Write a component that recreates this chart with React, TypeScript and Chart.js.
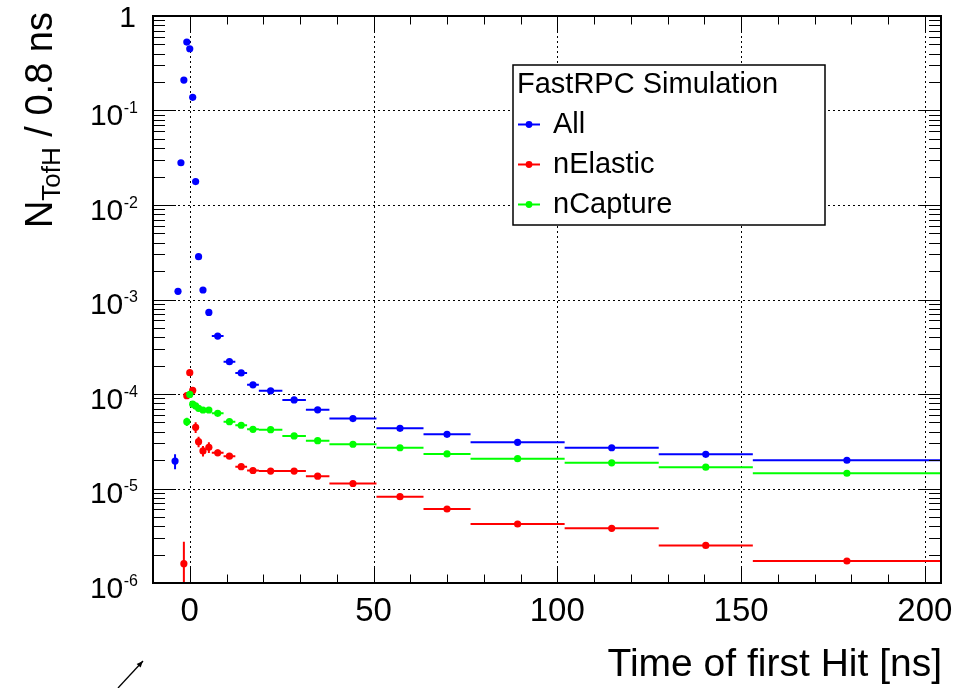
import React, { useEffect, useRef } from 'react';
import { Chart, registerables } from 'chart.js';

Chart.register(...registerables);

// ---- data ----
const binEdges = [-4.4, -3.6, -2.8, -2.0, -1.2, -0.4, 0.4, 1.2, 2.0, 2.8, 4.4, 6.0, 9.2, 12.4, 15.6, 18.8, 25.2, 31.6, 38.0, 50.8, 63.6, 76.4, 102.0, 127.6, 153.2, 204.4];

const allValues = [1.95e-5, 1.22e-3, 0.028, 0.21, 0.53, 0.45, 0.138, 0.0177, 0.00284, 0.00126, 7.3e-4, 4.1e-4, 2.2e-4, 1.67e-4, 1.25e-4, 1.08e-4, 8.65e-5, 6.8e-5, 5.5e-5, 4.33e-5, 3.74e-5, 3.08e-5, 2.7e-5, 2.3e-5, 1.99e-5];
const allErrors = [3.5e-6, 1.5e-5, 3e-4, 1e-3, 1.5e-3, 1.4e-3, 8e-4, 2.8e-4, 1.1e-4, 5e-5, 3.5e-5, 1.8e-5, 1.1e-5, 9e-6, 7e-6, 4e-6, 3.5e-6, 3e-6, 1.7e-6, 1.5e-6, 1.4e-6, 8e-7, 7e-7, 6e-7, 4e-7];

const elasticValues = [null, null, null, 1.6e-6, 9.6e-5, 1.68e-4, 1.09e-4, 4.44e-5, 3.13e-5, 2.5e-5, 2.73e-5, 2.39e-5, 2.2e-5, 1.7e-5, 1.55e-5, 1.53e-5, 1.53e-5, 1.35e-5, 1.13e-5, 8.2e-6, 6.07e-6, 4.21e-6, 3.79e-6, 2.5e-6, 1.71e-6];
const elasticErrors = [0, 0, 0, 1.14e-6, 4e-6, 5e-6, 4.5e-6, 5.7e-6, 4.0e-6, 3.2e-6, 3.5e-6, 2.0e-6, 1.5e-6, 1.2e-6, 1.1e-6, 8e-7, 8e-7, 6e-7, 4e-7, 3e-7, 2.5e-7, 1.5e-7, 1.3e-7, 1e-7, 7e-8];

const captureValues = [null, null, null, null, 5.1e-5, 9.9e-5, 7.8e-5, 7.47e-5, 7.06e-5, 6.77e-5, 6.77e-5, 6.25e-5, 5.1e-5, 4.67e-5, 4.23e-5, 4.19e-5, 3.6e-5, 3.21e-5, 2.94e-5, 2.7e-5, 2.32e-5, 2.07e-5, 1.87e-5, 1.68e-5, 1.45e-5];
const captureErrors = [0, 0, 0, 0, 5.2e-6, 3e-6, 2.5e-6, 2.5e-6, 2.4e-6, 1.8e-6, 1.8e-6, 1.2e-6, 9e-7, 8e-7, 7e-7, 5e-7, 4.5e-7, 4e-7, 3e-7, 2.5e-7, 2.2e-7, 1.4e-7, 1.3e-7, 1.2e-7, 8e-8];

const seriesLabels = ['All', 'nElastic', 'nCapture'];
const seriesColors = ['#0000ff', '#ff0000', '#00ff00'];
const legendHeader = 'FastRPC Simulation';

const xTickLabels = [0, 50, 100, 150, 200];
const xMinorStep = 10;
const yTickExponents = [0, -1, -2, -3, -4, -5, -6];
const xTitle = 'Time of first Hit [ns]';
const yTitleMain = 'N';
const yTitleSub = 'TofH';
const yTitleRest = ' / 0.8 ns';

const FONT = '"Liberation Sans", Arial, Helvetica, sans-serif';
const f = (s: number) => `${s}px ${FONT}`;

function binCenter(i: number) {
  return (binEdges[i] + binEdges[i + 1]) / 2;
}

function markerData(values: (number | null)[]) {
  const out: any[] = [];
  values.forEach((v, i) => { if (v != null) out.push({ x: binCenter(i), y: v }); });
  return out;
}
function hBarData(values: (number | null)[]) {
  const out: any[] = [];
  values.forEach((v, i) => {
    if (v != null) out.push({ x: binEdges[i], y: v }, { x: binEdges[i + 1], y: v }, { x: binCenter(i), y: null });
  });
  return out;
}
function vBarData(values: (number | null)[], errs: number[]) {
  const out: any[] = [];
  values.forEach((v, i) => {
    if (v != null && errs[i] > 0) out.push({ x: binCenter(i), y: v - errs[i] }, { x: binCenter(i), y: v + errs[i] }, { x: binCenter(i), y: null });
  });
  return out;
}

function seriesDatasets(label: string, color: string, values: (number | null)[], errs: number[]) {
  const bar = { showLine: true, borderColor: color, borderWidth: 2, pointRadius: 0, spanGaps: false, fill: false, borderCapStyle: 'butt' };
  return [
    { label, data: markerData(values), showLine: false, pointRadius: 3.6, pointBackgroundColor: color, pointBorderWidth: 0, borderColor: color },
    { label: label + ' xerr', data: hBarData(values), ...bar },
    { label: label + ' yerr', data: vBarData(values, errs), ...bar },
  ];
}

const rootStyle = {
  id: 'rootStyle',
  beforeDatasetsDraw(chart: any) {
    const { ctx, chartArea: a, scales } = chart;
    const x = scales.x, y = scales.y;
    ctx.save();
    ctx.strokeStyle = '#000';
    ctx.lineWidth = 1;
    ctx.setLineDash([2, 3]);
    for (const t of xTickLabels) {
      const px = Math.round(x.getPixelForValue(t)) + 0.5;
      ctx.beginPath(); ctx.moveTo(px, a.top); ctx.lineTo(px, a.bottom); ctx.stroke();
    }
    for (const e of yTickExponents) {
      const py = Math.round(y.getPixelForValue(Math.pow(10, e))) + 0.5;
      ctx.beginPath(); ctx.moveTo(a.left, py); ctx.lineTo(a.right, py); ctx.stroke();
    }
    ctx.restore();
  },
  afterDatasetsDraw(chart: any) {
    const { ctx, chartArea: a, scales } = chart;
    const x = scales.x, y = scales.y;
    ctx.save();
    ctx.setLineDash([]);
    ctx.strokeStyle = '#000';
    ctx.fillStyle = '#000';
    // ticks
    ctx.lineWidth = 1;
    const xMajLen = 17, xMinLen = 8.5, yMajLen = 23, yMinLen = 12;
    for (let t = x.min; t <= x.max + 1e-9; t += xMinorStep) {
      const v = Math.round(t * 10) / 10;
      const isMaj = xTickLabels.includes(v);
      const len = isMaj ? xMajLen : xMinLen;
      const px = Math.round(x.getPixelForValue(v)) + 0.5;
      ctx.beginPath();
      ctx.moveTo(px, a.bottom); ctx.lineTo(px, a.bottom - len);
      ctx.moveTo(px, a.top); ctx.lineTo(px, a.top + len);
      ctx.stroke();
    }
    for (let e = -6; e <= 0; e++) {
      for (let k = 1; k <= 9; k++) {
        const val = k * Math.pow(10, e);
        if (val > 1.0000001) break;
        const len = k === 1 ? yMajLen : yMinLen;
        const py = Math.round(y.getPixelForValue(val)) + 0.5;
        ctx.beginPath();
        ctx.moveTo(a.left, py); ctx.lineTo(a.left + len, py);
        ctx.moveTo(a.right, py); ctx.lineTo(a.right - len, py);
        ctx.stroke();
      }
    }
    // frame
    ctx.lineWidth = 2;
    ctx.strokeRect(a.left, a.top, a.right - a.left, a.bottom - a.top);

    // x tick labels
    ctx.font = f(33);
    ctx.textAlign = 'center';
    ctx.textBaseline = 'alphabetic';
    for (const t of xTickLabels) {
      ctx.fillText(String(t), x.getPixelForValue(t), 621);
    }
    // y tick labels
    const labelRight = 138;
    for (const e of yTickExponents) {
      const py = y.getPixelForValue(Math.pow(10, e));
      if (e === 0) {
        ctx.font = f(30);
        ctx.textAlign = 'right';
        ctx.fillText('1', labelRight - 2, py + 11);
        continue;
      }
      const sup = String(e);
      ctx.font = f(16);
      const sw = ctx.measureText(sup).width;
      ctx.textAlign = 'left';
      ctx.fillText(sup, labelRight - sw, py + 2.5);
      ctx.font = f(30);
      ctx.textAlign = 'right';
      ctx.fillText('10', labelRight - sw - 0.5, py + 14.5);
    }
    // x title
    ctx.font = f(39);
    ctx.textAlign = 'right';
    ctx.fillText(xTitle, a.right + 1, 676);
    // y title (rotated)
    ctx.save();
    ctx.font = f(38);
    const w1 = ctx.measureText(yTitleMain).width;
    const w3 = ctx.measureText(yTitleRest).width;
    ctx.font = f(26);
    const w2 = ctx.measureText(yTitleSub).width;
    const total = w1 + w2 + w3;
    ctx.translate(52, 12 + total);
    ctx.rotate(-Math.PI / 2);
    ctx.textAlign = 'left';
    ctx.font = f(38);
    ctx.fillText(yTitleMain, 0, 0);
    ctx.font = f(26);
    ctx.fillText(yTitleSub, w1, 8);
    ctx.font = f(38);
    ctx.fillText(yTitleRest, w1 + w2, 0);
    ctx.restore();

    // legend
    const lx = 513, ly = 65, lw = 312, lh = 160;
    ctx.fillStyle = '#fff';
    ctx.fillRect(lx, ly, lw, lh);
    ctx.lineWidth = 1.5;
    ctx.strokeStyle = '#000';
    ctx.strokeRect(lx, ly, lw, lh);
    ctx.fillStyle = '#000';
    ctx.textAlign = 'left';
    ctx.font = f(29);
    ctx.fillText(legendHeader, lx + 4, ly + 28);
    seriesLabels.forEach((lab, i) => {
      const base = ly + 68 + i * 40;
      const my = base - 8.5;
      ctx.strokeStyle = seriesColors[i];
      ctx.lineWidth = 2;
      ctx.beginPath(); ctx.moveTo(lx + 5, my); ctx.lineTo(lx + 27, my); ctx.stroke();
      ctx.fillStyle = seriesColors[i];
      ctx.beginPath(); ctx.arc(lx + 16, my, 3.4, 0, Math.PI * 2); ctx.fill();
      ctx.fillStyle = '#000';
      ctx.font = f(29);
      ctx.fillText(lab, lx + 40, base);
    });

    // stray arrow at bottom left
    ctx.strokeStyle = '#000';
    ctx.fillStyle = '#000';
    ctx.lineWidth = 1.3;
    const ax0 = 118, ay0 = 688, ax1 = 143, ay1 = 661;
    ctx.beginPath(); ctx.moveTo(ax0, ay0); ctx.lineTo(ax1, ay1); ctx.stroke();
    const ang = Math.atan2(ay1 - ay0, ax1 - ax0);
    ctx.beginPath();
    ctx.moveTo(ax1, ay1);
    ctx.lineTo(ax1 - 7 * Math.cos(ang - 0.4), ay1 - 7 * Math.sin(ang - 0.4));
    ctx.lineTo(ax1 - 7 * Math.cos(ang + 0.4), ay1 - 7 * Math.sin(ang + 0.4));
    ctx.closePath(); ctx.fill();
    ctx.restore();
  },
};

export default function App() {
  const ref = useRef<HTMLCanvasElement | null>(null);
  useEffect(() => {
    if (!ref.current) return;
    const datasets = [
      ...seriesDatasets(seriesLabels[2], seriesColors[2], captureValues, captureErrors),
      ...seriesDatasets(seriesLabels[1], seriesColors[1], elasticValues, elasticErrors),
      ...seriesDatasets(seriesLabels[0], seriesColors[0], allValues, allErrors),
    ];
    const chart = new Chart(ref.current, {
      type: 'scatter',
      data: { datasets: datasets as any },
      options: {
        animation: false,
        responsive: false,
        devicePixelRatio: 1,
        events: [],
        layout: { padding: { top: 16, right: 29, left: 0, bottom: 0 } },
        plugins: { legend: { display: false }, tooltip: { enabled: false } },
        scales: {
          x: {
            type: 'linear', min: -10, max: 204.4,
            grid: { display: false }, border: { display: false }, ticks: { display: false },
            afterFit: (s: any) => { s.height = 105; },
          },
          y: {
            type: 'logarithmic', min: 1e-6, max: 1,
            grid: { display: false }, border: { display: false }, ticks: { display: false },
            afterFit: (s: any) => { s.width = 153; },
          },
        },
      } as any,
      plugins: [rootStyle],
    });
    return () => chart.destroy();
  }, []);
  return (
    <div style={{ position: 'fixed', left: 0, top: 0, width: 970, height: 688, background: '#fff' }}>
      <canvas ref={ref} width={970} height={688} style={{ display: 'block' }} />
    </div>
  );
}
